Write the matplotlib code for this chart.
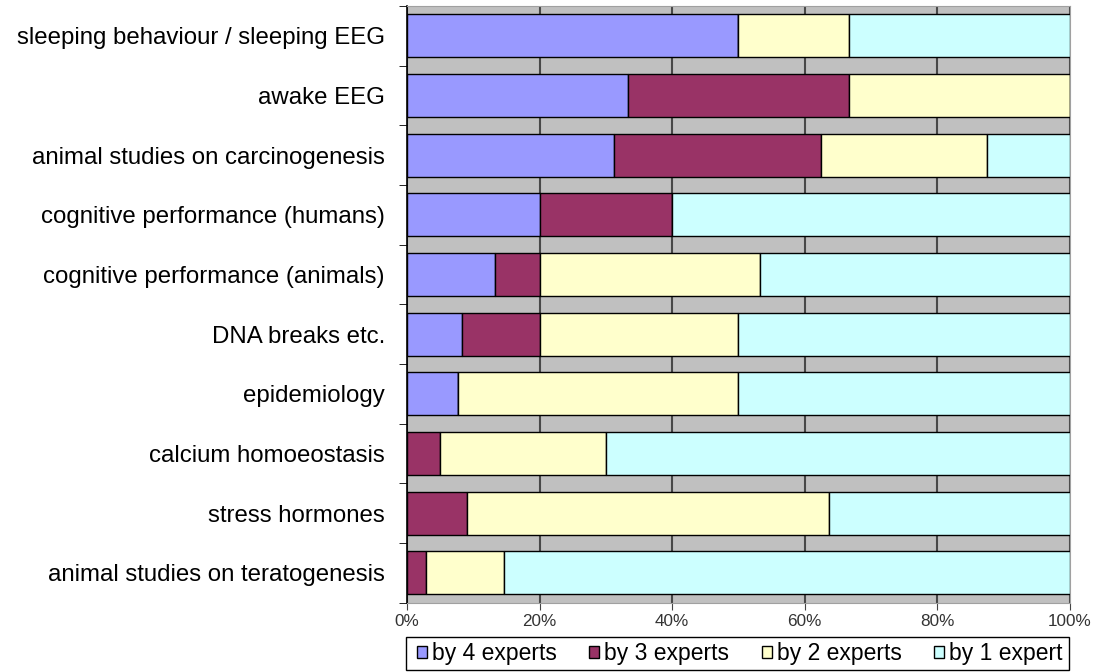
import matplotlib.pyplot as plt
from matplotlib.patches import Rectangle
import numpy as np

plt.rcParams['font.family'] = ['Liberation Sans', 'DejaVu Sans']

categories = ['sleeping behaviour / sleeping EEG', 'awake EEG',
              'animal studies on carcinogenesis', 'cognitive performance (humans)',
              'cognitive performance (animals)', 'DNA breaks etc.', 'epidemiology',
              'calcium homoeostasis', 'stress hormones',
              'animal studies on teratogenesis']

# share of studies (%) per category
by4 = [50.0, 33.3, 31.25, 20.0, 13.3, 8.3, 7.7, 0.0, 0.0, 0.0]
by3 = [0.0, 33.4, 31.25, 20.0, 6.7, 11.7, 0.0, 5.0, 9.1, 2.9]
by2 = [16.7, 33.3, 25.0, 0.0, 33.3, 30.0, 42.3, 25.0, 54.5, 11.8]
by1 = [33.3, 0.0, 12.5, 60.0, 46.7, 50.0, 50.0, 70.0, 36.4, 85.3]

series = [by4, by3, by2, by1]
labels = ['by 4 experts', 'by 3 experts', 'by 2 experts', 'by 1 expert']
colors = ['#9999FF', '#993366', '#FFFFCC', '#CCFFFF']
xticks = [0, 20, 40, 60, 80, 100]

fig = plt.figure(figsize=(11.01, 6.72), dpi=100)
ax = fig.add_axes([0.3697, 0.103, 0.6021, 0.888])
ax.set_facecolor('#C0C0C0')

y = np.arange(len(categories))
left = np.zeros(len(categories))
handles = []
for vals, lab, col in zip(series, labels, colors):
    vals = np.array(vals)
    b = ax.barh(y, vals, left=left, height=0.72, color=col,
                edgecolor='black', linewidth=1.0, label=lab, zorder=3)
    handles.append(b)
    left += vals

ax.set_ylim(len(categories) - 0.5, -0.5)
ax.set_xlim(0, 100)
ax.set_yticks(y)
ax.set_yticklabels(categories, fontsize=17.3)
ax.set_yticks(np.arange(len(categories) + 1) - 0.5, minor=True)
ax.tick_params(axis='y', which='major', length=0, pad=16)
ax.tick_params(axis='y', which='minor', length=6, direction='out', color='black')

ax.set_xticks(xticks)
ax.set_xticklabels([f'{t}%' for t in xticks], fontsize=12.3, color='#333333')
ax.tick_params(axis='x', length=5, direction='out', color='#444444', pad=3)
ax.grid(axis='x', color='#484848', linewidth=1.5, zorder=1)

ax.spines['left'].set_color('black')
ax.spines['left'].set_linewidth(1.2)
for s in ['top', 'right', 'bottom']:
    ax.spines[s].set_color('#A0A0A0')

# legend box drawn separately so the entries can sit centred with padding
box = (0.3688, 0.003, 0.6022, 0.049)
fig.patches.append(Rectangle(box[:2], box[2], box[3], transform=fig.transFigure,
                             facecolor='white', edgecolor='black', linewidth=1.0))
fig.legend(handles=handles, labels=labels, loc='center',
           bbox_to_anchor=(box[0] + box[2] / 2 + 0.002, box[1] + box[3] / 2),
           ncol=4, fontsize=16.5, frameon=False,
           handlelength=0.45, handleheight=0.45, handletextpad=0.22,
           borderpad=0.0, columnspacing=1.4, borderaxespad=0)

fig.savefig('out.png', dpi=100)
